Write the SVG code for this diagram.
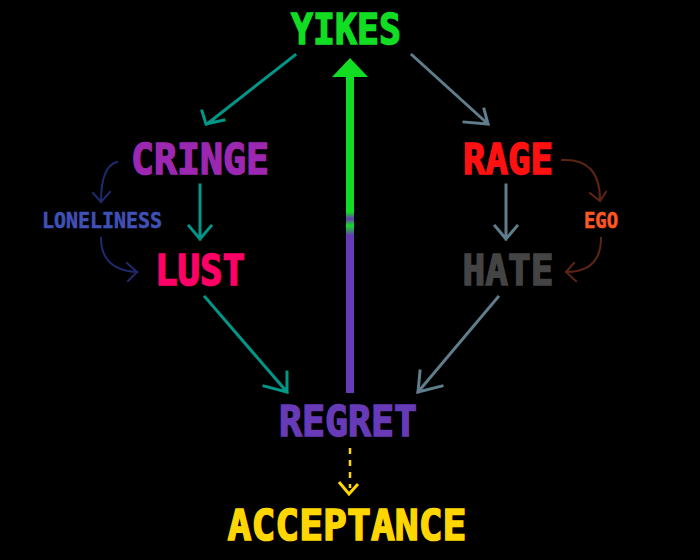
<svg xmlns="http://www.w3.org/2000/svg" width="700" height="560" viewBox="0 0 700 560">
<defs>
<style>
.t{font-family:"DejaVu Sans Mono","Liberation Mono",monospace;font-weight:bold;text-anchor:middle;stroke-linejoin:miter}
.big{font-size:43px;stroke-width:1.6}
.small{font-size:22px;stroke-width:0.6}
.a{fill:none;stroke-width:3;stroke-linecap:square;stroke-linejoin:miter}
.teal{stroke:#009688}
.slate{stroke:#607d8b}
.navy{stroke:#1f2a6b;stroke-width:2}
.brown{stroke:#5d2414;stroke-width:2}
</style>
<linearGradient id="gp" x1="0" y1="58" x2="0" y2="393" gradientUnits="userSpaceOnUse">
<stop offset="0" stop-color="#11dd22"/>
<stop offset="0.46" stop-color="#11dd22"/>
<stop offset="0.48" stop-color="#673ab7"/>
<stop offset="0.5" stop-color="#11dd22"/>
<stop offset="0.53" stop-color="#673ab7"/>
<stop offset="1" stop-color="#673ab7"/>
</linearGradient>
</defs>
<rect width="700" height="560" fill="#000"/>
<g id="connectors">
<path class="a teal" d="M295 55 L207 124 M202 111 L206 124 L224 120"/>
<path class="a slate" d="M412 55 L488 124 M484 109 L488 124 L464 122"/>
<path class="a teal" d="M200 185 L200 239 M189 226 L200 239 L211 226"/>
<path class="a slate" d="M506 185 L506 239 M495 226 L506 239 L517 226"/>
<path class="a teal" d="M205 297 L287 392 M287 372 L287 392 L264 386"/>
<path class="a slate" d="M498 297 L418 392 M420 371 L418 392 L442 386"/>
<rect x="346" y="76" width="8" height="317" fill="url(#gp)"/>
<polygon points="350,58 368,77 332,77" fill="#11dd22"/>
<path class="a navy" d="M117 162 Q101 166 101 202 M93 193 L101 202 L110 192"/>
<path class="a navy" d="M101 238 Q101 270 137 272 M127 263 L137 272 L128 281"/>
<path class="a brown" d="M562 160 Q600 158 600 200 M590 193 L600 201 L606 192"/>
<path class="a brown" d="M601 238 Q601 272 566 272 M574 263 L566 272 L576 281"/>
<line x1="350" y1="448" x2="350" y2="488" stroke="#ffd600" stroke-width="2.5" stroke-dasharray="6,6"/>
<path d="M339 482 L349 494 L358 484" fill="none" stroke="#ffd600" stroke-width="3"/>
</g>
<g id="yikes"><text class="t big" x="346" y="44" fill="#11dd22" stroke="#11dd22" textLength="110" lengthAdjust="spacingAndGlyphs">YIKES</text></g>
<g id="cringe"><text class="t big" x="200" y="174" fill="#9c27b0" stroke="#9c27b0" textLength="138" lengthAdjust="spacingAndGlyphs">CRINGE</text></g>
<g id="rage"><text class="t big" x="508" y="174" fill="#ff1111" stroke="#ff1111" textLength="90" lengthAdjust="spacingAndGlyphs">RAGE</text></g>
<g id="lust"><text class="t big" x="200" y="285" fill="#ff0066" stroke="#ff0066" textLength="90" lengthAdjust="spacingAndGlyphs">LUST</text></g>
<g id="hate"><text class="t big" x="508" y="285" fill="#444444" stroke="#444444" textLength="91" lengthAdjust="spacingAndGlyphs">HATE</text></g>
<g id="loneliness"><text class="t small" x="102" y="228" fill="#3f51b5" stroke="#3f51b5" textLength="120" lengthAdjust="spacingAndGlyphs">LONELINESS</text></g>
<g id="ego"><text class="t small" x="601" y="228" fill="#ff5722" stroke="#ff5722" textLength="34" lengthAdjust="spacingAndGlyphs">EGO</text></g>
<g id="regret"><text class="t big" x="348" y="436" fill="#673ab7" stroke="#673ab7" textLength="138" lengthAdjust="spacingAndGlyphs">REGRET</text></g>
<g id="acceptance"><text class="t big" x="347" y="540" fill="#ffd600" stroke="#ffd600" textLength="239" lengthAdjust="spacingAndGlyphs">ACCEPTANCE</text></g>
</svg>
